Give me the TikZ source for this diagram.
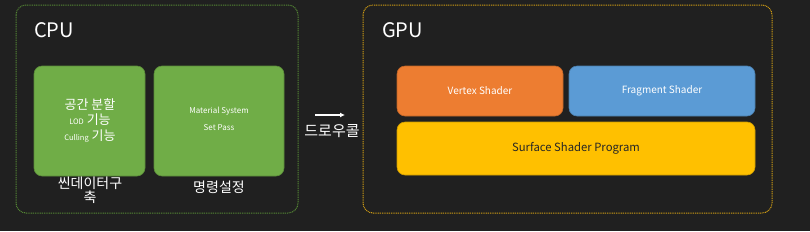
\documentclass[tikz,border=0pt]{standalone}
\usepackage{fontspec}
\usetikzlibrary{arrows.meta}
\setmainfont{Noto Sans CJK KR}
\begin{document}
\begin{tikzpicture}[x=1pt,y=-1pt,
  frame/.style={rounded corners=10pt, line width=1pt, dash pattern=on 1pt off 0.8pt},
  blk/.style={rounded corners=8pt, draw=#1!80!black, line width=0.6pt},
  lbl/.style={text=white, align=center, inner sep=0pt}]
\fill[fill={rgb,255:red,32;green,32;blue,32}] (0,0) rectangle (810,231);
\useasboundingbox (0,0) rectangle (810,231);
\definecolor{cgreen}{RGB}{112,173,71}
\definecolor{corange}{RGB}{237,125,49}
\definecolor{cblue}{RGB}{91,155,213}
\definecolor{cyellow}{RGB}{255,192,0}
\definecolor{gframe}{RGB}{84,135,52}
\definecolor{oframe}{RGB}{205,155,20}
% CPU frame
\draw[frame, draw=gframe] (16,5) rectangle (298,213);
\node[lbl, anchor=west, font=\fontsize{20}{20}\selectfont] (cpu) at (34,30) {CPU};
\fill[blk=cgreen, fill=cgreen] (34,66) rectangle (145,176);
\node[lbl, font=\fontsize{13}{16.5}\selectfont] (scene) at (90,120)
  {공간 분할\\[-1pt]{\fontsize{7.5}{7}\selectfont LOD} 기능\\[-1pt]{\fontsize{7.5}{7}\selectfont Culling} 기능};
\fill[blk=cgreen, fill=cgreen] (154,66) rectangle (284,176);
\node[lbl, font=\fontsize{8}{17}\selectfont] (mat) at (219,119) {Material System\\Set Pass};
\node[lbl, font=\fontsize{14}{14}\selectfont] (scenel) at (90,190) {씬데이터구\\축};
\node[lbl, font=\fontsize{14}{14}\selectfont] (cmd) at (219,187) {명령설정};
% arrow
\coordinate (a1) at (315,115);
\coordinate (a2) at (345,115);
\draw[white, line width=1.6pt, -{Latex[length=5pt,width=5pt]}] (a1) -- (a2);
\node[lbl, font=\fontsize{15}{15}\selectfont] (draw) at (332,131) {드로우콜};
% GPU frame
\draw[frame, draw=oframe] (363,5) rectangle (772,213);
\node[lbl, anchor=west, font=\fontsize{20}{20}\selectfont] (gpu) at (382,30) {GPU};
\fill[blk=corange, fill=corange] (397,66) rectangle (563,116);
\node[lbl, font=\fontsize{10}{10}\selectfont] (vs) at (480,91) {Vertex Shader};
\fill[blk=cblue, fill=cblue] (569,66) rectangle (755,116);
\node[lbl, font=\fontsize{10}{10}\selectfont] (fs) at (662,91) {Fragment Shader};
\fill[blk=cyellow, fill=cyellow] (397,122) rectangle (755,175);
\node[lbl, text=black!85, font=\fontsize{11.3}{11.3}\selectfont] (ssp) at (576,148) {Surface Shader Program};
\end{tikzpicture}
\end{document}
